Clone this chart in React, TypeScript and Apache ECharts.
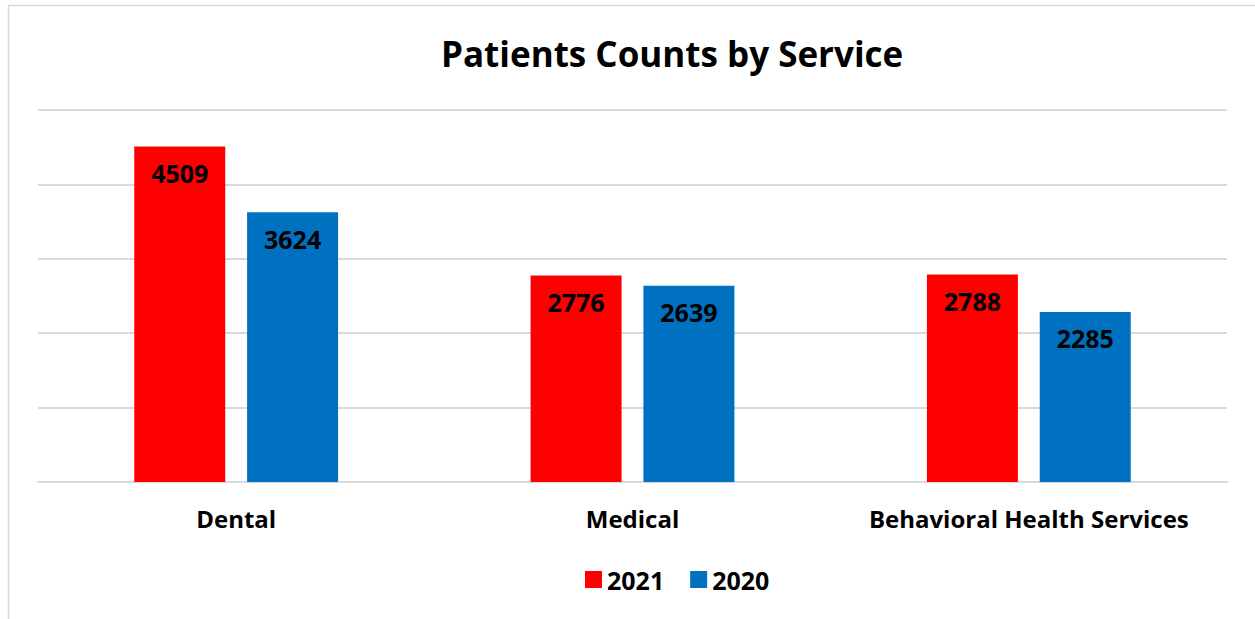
import React, { useEffect, useRef } from "react";
import * as echarts from "echarts";

const categories = ["Dental", "Medical", "Behavioral Health Services"];
const values2021 = [4509, 2776, 2788];
const values2020 = [3624, 2639, 2285];
const seriesNames = ["2021", "2020"];

const FONT = "'Open Sans', 'Noto Sans', sans-serif";

export default function App() {
  const ref = useRef<HTMLDivElement>(null);
  useEffect(() => {
    if (!ref.current) return;
    const chart = echarts.init(ref.current, null, { renderer: "svg" });
    const labelCfg = {
      show: true,
      position: "insideTop",
      distance: 14,
      color: "#000",
      fontWeight: "bold",
      fontSize: 25,
      fontFamily: FONT,
    };
    chart.setOption({
      animation: false,
      backgroundColor: "#fff",
      title: {
        text: "Patients Counts by Service",
        left: 436,
        top: 31,
        textStyle: { fontSize: 35, fontWeight: "bold", color: "#000", fontFamily: FONT },
      },
      graphic: [
        {
          type: "rect",
          shape: { x: 8.5, y: 5.5, width: 1300, height: 700 },
          style: { fill: "none", stroke: "#d9d9d9", lineWidth: 1.5 },
          silent: true,
        },
      ],
      legend: {
        data: seriesNames,
        top: 562,
        left: 580,
        itemWidth: 17,
        itemHeight: 17,
        itemGap: 26,
        icon: "rect",
        textStyle: { fontSize: 25, fontWeight: "bold", color: "#000", fontFamily: FONT },
      },
      grid: { left: 38, right: 28, top: 110, bottom: 137, containLabel: false },
      xAxis: {
        type: "category",
        data: categories,
        axisTick: { show: false },
        axisLine: { lineStyle: { color: "#d9d9d9", width: 2 } },
        axisLabel: {
          interval: 0,
          hideOverlap: false,
          margin: 24,
          fontSize: 24,
          fontWeight: "bold",
          color: "#000",
          fontFamily: FONT,
        },
      },
      yAxis: {
        type: "value",
        min: 0,
        max: 5000,
        interval: 1000,
        axisLabel: { show: false },
        axisLine: { show: false },
        axisTick: { show: false },
        splitLine: { lineStyle: { color: "#d9d9d9", width: 2 } },
      },
      series: [
        {
          name: seriesNames[0],
          type: "bar",
          data: values2021,
          barWidth: 91,
          barGap: "24%",
          itemStyle: { color: "#ff0000" },
          label: labelCfg,
        },
        {
          name: seriesNames[1],
          type: "bar",
          data: values2020,
          barWidth: 91,
          itemStyle: { color: "#0070c0" },
          label: labelCfg,
        },
      ],
    });
    return () => chart.dispose();
  }, []);
  return (
    <div
      ref={ref}
      style={{ position: "fixed", left: 0, top: 0, width: 1255, height: 619 }}
    />
  );
}
